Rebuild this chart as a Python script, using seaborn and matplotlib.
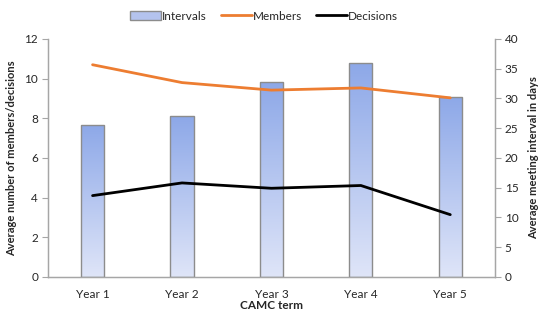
import numpy as np
import pandas as pd
import matplotlib
matplotlib.use("Agg")
import matplotlib.pyplot as plt
from matplotlib.patches import Patch
from matplotlib.lines import Line2D
import seaborn as sns

# --- data ---
terms = ["Year 1", "Year 2", "Year 3", "Year 4", "Year 5"]
intervals = [25.6, 27.0, 32.8, 35.9, 30.3]   # days, right axis
members = [10.7, 9.8, 9.42, 9.53, 9.03]      # left axis
decisions = [4.1, 4.74, 4.47, 4.61, 3.14]    # left axis

df = pd.DataFrame({"term": terms, "intervals": intervals,
                   "members": members, "decisions": decisions})

sns.set_style("white")
plt.rcParams["font.family"] = ["Lato", "DejaVu Sans"]

grey = "#A6A6A6"
fs = 8.5
fig, ax = plt.subplots(figsize=(5.5, 3.22), dpi=100)
fig.subplots_adjust(left=0.087, right=0.9, top=0.879, bottom=0.14)
ax2 = ax.twinx()

# bars on the secondary axis
sns.barplot(data=df, x="term", y="intervals", ax=ax2, width=0.26,
            color="#B4C3EE", edgecolor="#8C8C8C", linewidth=1.0, zorder=2)

# gradient fill clipped to each bar
grad = np.linspace(0, 1, 256).reshape(-1, 1)
cmap = matplotlib.colors.LinearSegmentedColormap.from_list(
    "bar", ["#DFE5F8", "#8DA8E8"])
for p in ax2.patches:
    x0, y0 = p.get_x(), p.get_y()
    w, h = p.get_width(), p.get_height()
    im = ax2.imshow(grad, cmap=cmap, aspect="auto", origin="lower",
                    extent=[x0, x0 + w, y0, y0 + h], zorder=2.5)
    im.set_clip_path(p)
    p.set_facecolor("none")
    p.set_zorder(3)

# lines on the primary axis
sns.lineplot(data=df, x="term", y="members", ax=ax, color="#ED7D31",
             linewidth=2, sort=False)
sns.lineplot(data=df, x="term", y="decisions", ax=ax, color="black",
             linewidth=2, sort=False)
ax.set_zorder(ax2.get_zorder() + 1)
ax.patch.set_visible(False)

ax.set_xlim(-0.5, 4.5)
ax2.set_xlim(-0.5, 4.5)
ax.set_ylim(0, 12)
ax2.set_ylim(0, 40)
ax.set_yticks(range(0, 13, 2))
ax2.set_yticks(range(0, 41, 5))

ax.set_xticks(range(5))
ax.set_xticklabels(terms)
ax.set_xticks(np.arange(-0.5, 5, 1), minor=True)
ax.tick_params(axis="x", which="major", length=0, pad=9, labelsize=fs)
ax.tick_params(axis="x", which="minor", length=4, color=grey, width=0.8)
ax.tick_params(axis="y", length=4, color=grey, width=0.8, labelsize=fs,
               left=True, pad=3)
ax2.tick_params(axis="y", length=4, color=grey, width=0.8, labelsize=fs,
                right=True, pad=3)
ax2.tick_params(axis="x", length=0)

for a in (ax, ax2):
    for s in a.spines.values():
        s.set_color(grey)
        s.set_linewidth(0.9)
    a.spines["top"].set_visible(False)

ax.set_xlabel("CAMC term", fontsize=fs, fontweight="bold", labelpad=0)
ax.set_ylabel("Average number of members/decisions", fontsize=8,
              fontweight="bold", labelpad=5)
ax2.set_ylabel("Average meeting interval in days", fontsize=8,
               fontweight="bold", labelpad=7)
ax2.set_xlabel("")

handles = [Patch(facecolor="#B4C3EE", edgecolor="#8C8C8C", label="Intervals"),
           Line2D([], [], color="#ED7D31", lw=2, label="Members"),
           Line2D([], [], color="black", lw=2, label="Decisions")]
fig.legend(handles=handles, loc="upper center", bbox_to_anchor=(0.48, 1.0),
           ncol=3, frameon=False, fontsize=fs, handlelength=2.6,
           handletextpad=0.1, columnspacing=1.2)

fig.savefig("out.png", dpi=100)
